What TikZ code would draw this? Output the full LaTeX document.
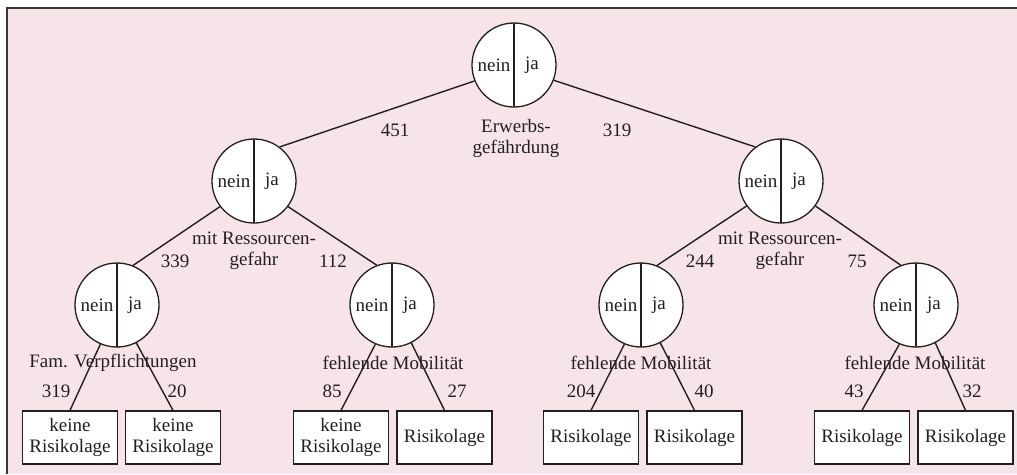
\documentclass[tikz,border=0pt]{standalone}
\usepackage{fontspec}
\setmainfont{Liberation Serif}
\definecolor{rosa}{HTML}{F7E4E8}
\definecolor{schrift}{HTML}{231F20}
\tikzset{
  entscheid/.style={circle, draw=schrift, fill=white, line width=1.3pt, minimum size=84pt, inner sep=0pt,
    path picture={\draw[line width=1.3pt, schrift] (path picture bounding box.north) -- (path picture bounding box.south);},
    label={[inner sep=0pt, xshift=-20pt]center:nein}, label={[inner sep=0pt, xshift=18pt]center:ja}},
  ergebnis/.style={draw=schrift, fill=white, line width=1.3pt, minimum width=95pt, minimum height=53pt, align=center, inner sep=1pt},
  kante/.style={line width=1.4pt, schrift},
  zahl/.style={inner sep=0pt},
  merkmal/.style={align=center, inner sep=0pt},
}
\begin{document}
\begin{tikzpicture}[x=1pt, y=-1pt, font=\fontsize{19}{21}\selectfont, text=schrift]

		% Hintergrund
		\useasboundingbox (0,0) rectangle (1017,474);
		\fill [rosa] (7,8) rectangle (1017,474);
		\draw [line width=2.2pt, schrift!90] (7,474)--(7,8)--(1017,8); % Rahmen links und oben

		% Entscheidungsknoten
		\node [entscheid] (R) at (514,65) {}; % Wurzel
		\node [entscheid] (A) at (254,181) {};
		\node [entscheid] (B) at (781,181) {};
		\node [entscheid] (C1) at (117,305) {};
		\node [entscheid] (C2) at (392,305) {};
		\node [entscheid] (C3) at (641,305) {};
		\node [entscheid] (C4) at (916,305) {};

		% Ergebnisse
		\node [ergebnis] (K1) at (70,437.5) {keine\\Risikolage};
		\node [ergebnis] (K2) at (173,437.5) {keine\\Risikolage};
		\node [ergebnis] (K3) at (341,437.5) {keine\\Risikolage};
		\node [ergebnis] (K4) at (444.5,437.5) {Risikolage};
		\node [ergebnis] (K5) at (591,437.5) {Risikolage};
		\node [ergebnis] (K6) at (694.5,437.5) {Risikolage};
		\node [ergebnis] (K7) at (862,437.5) {Risikolage};
		\node [ergebnis] (K8) at (965.5,437.5) {Risikolage};

		% Merkmale
		\node [merkmal] (mR) at (516,138) {Erwerbs-\\gef\"ahrdung};
		\node [merkmal] (mA) at (254,251) {mit Ressourcen-\\gefahr};
		\node [merkmal] (mB) at (780,251) {mit Ressourcen-\\gefahr};
		\node [merkmal] (mC1) at (113,363) {Fam. Verpflichtungen};
		\node [merkmal] (mC2) at (393,363) {fehlende Mobilit\"at};
		\node [merkmal] (mC3) at (641,363) {fehlende Mobilit\"at};
		\node [merkmal] (mC4) at (915,363) {fehlende Mobilit\"at};

		% Fallzahlen
		\node [zahl] (n1) at (395,130) {451};
		\node [zahl] (n2) at (617,130) {319};
		\node [zahl] (n3) at (175,261) {339};
		\node [zahl] (n4) at (333,261) {112};
		\node [zahl] (n5) at (700,261) {244};
		\node [zahl] (n6) at (857,261) {75};
		\node [zahl] (n7) at (56,391) {319};
		\node [zahl] (n8) at (177,391) {20};
		\node [zahl] (n9) at (332,391) {85};
		\node [zahl] (n10) at (457,391) {27};
		\node [zahl] (n11) at (581,391) {204};
		\node [zahl] (n12) at (704,391) {40};
		\node [zahl] (n13) at (854,391) {43};
		\node [zahl] (n14) at (972,391) {32};

		% Kanten
		\draw [kante] (R.202)--(A.53);
		\draw [kante] (R.339)--(B.127);
		\draw [kante] (A.217)--(C1.68);
		\draw [kante] (A.323)--(C2.111);
		\draw [kante] (B.216)--(C3.68);
		\draw [kante] (B.324)--(C4.111);
		\draw [kante] (C1.247)--(K1.north);
		\draw [kante] (C1.297)--(K2.north);
		\draw [kante] (C2.247)--(K3.north);
		\draw [kante] (C2.297)--(K4.north);
		\draw [kante] (C3.247)--(K5.north);
		\draw [kante] (C3.297)--(K6.north);
		\draw [kante] (C4.247)--(K7.north);
		\draw [kante] (C4.297)--(K8.north);

	\end{tikzpicture}
\end{document}
